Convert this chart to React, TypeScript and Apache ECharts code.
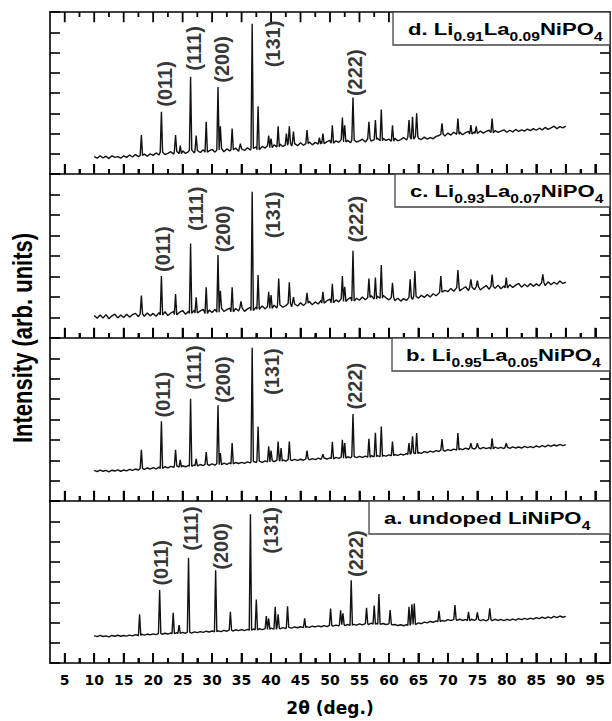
import React, { useEffect, useRef } from "react";
import * as echarts from "echarts";

// ---------- data ----------
const X_MIN = 2.5;
const X_MAX = 97.5;
const Y_MAX = 8;
const MAJOR_TICKS = [5, 10, 15, 20, 25, 30, 35, 40, 45, 50, 55, 60, 65, 70, 75, 80, 85, 90, 95];
const MINOR_TICKS = [7.5, 12.5, 17.5, 22.5, 27.5, 32.5, 37.5, 42.5, 47.5, 52.5, 57.5, 62.5, 67.5, 72.5, 77.5, 82.5, 87.5, 92.5];
const X_TITLE = "2θ (deg.)";
const Y_TITLE = "Intensity (arb. units)";
const HKL = ["(011)", "(111)", "(200)", "(131)", "(222)"];

// background, one value every 0.5 degree from 10 to 90
const BASE_START = 10;
const BASE_STEP = 0.5;
const BASE_D = [
  0.86, 0.78, 0.9, 0.8, 0.88, 0.76, 0.9, 0.82, 0.86, 0.78,
  0.9, 0.82, 0.94, 0.84, 0.96, 0.86, 0.92, 0.98, 0.88, 1.0,
  0.92, 1.04, 0.94, 1.08, 0.96, 1.02, 1.1, 0.98, 1.12, 1.0,
  1.14, 1.02, 1.1, 1.18, 1.04, 1.16, 1.06, 1.2, 1.08, 1.14,
  1.22, 1.08, 1.18, 1.26, 1.1, 1.24, 1.14, 1.2, 1.28, 1.12,
  1.24, 1.16, 1.3, 1.18, 1.26, 1.34, 1.2, 1.36, 1.28, 1.4,
  1.3, 1.44, 1.34, 1.48, 1.36, 1.42, 1.52, 1.38, 1.5, 1.4,
  1.54, 1.42, 1.5, 1.58, 1.44, 1.56, 1.48, 1.62, 1.5, 1.6,
  1.66, 1.52, 1.64, 1.56, 1.7, 1.58, 1.66, 1.54, 1.68, 1.58,
  1.64, 1.72, 1.58, 1.74, 1.62, 1.7, 1.78, 1.64, 1.76, 1.66,
  1.72, 1.62, 1.76, 1.64, 1.7, 1.8, 1.68, 1.82, 1.72, 1.86,
  1.76, 1.7, 1.82, 1.72, 1.8, 1.74, 1.86, 1.9, 1.96, 1.88,
  2.02, 1.92, 2.06, 1.96, 2.08, 1.94, 2.04, 2.1, 1.98, 2.08,
  2.0, 2.12, 2.02, 2.1, 2.16, 2.04, 2.14, 2.06, 2.12, 2.18,
  2.06, 2.16, 2.08, 2.2, 2.1, 2.18, 2.12, 2.22, 2.14, 2.24,
  2.16, 2.26, 2.18, 2.3, 2.2, 2.28, 2.36, 2.24, 2.34, 2.28,
  2.36,
];
const BASE_C = [
  1.1, 0.96, 1.12, 0.98, 1.14, 0.94, 1.08, 1.16, 0.98, 1.12,
  1.0, 1.16, 1.02, 1.14, 1.2, 1.04, 1.18, 1.06, 1.22, 1.08,
  1.2, 1.06, 1.24, 1.12, 1.28, 1.1, 1.22, 1.3, 1.14, 1.26,
  1.34, 1.16, 1.3, 1.2, 1.36, 1.22, 1.32, 1.4, 1.2, 1.36,
  1.24, 1.4, 1.26, 1.44, 1.3, 1.38, 1.46, 1.28, 1.44, 1.32,
  1.46, 1.3, 1.42, 1.5, 1.34, 1.52, 1.4, 1.56, 1.42, 1.54,
  1.44, 1.6, 1.46, 1.62, 1.5, 1.58, 1.68, 1.52, 1.66, 1.56,
  1.72, 1.58, 1.7, 1.78, 1.62, 1.76, 1.66, 1.84, 1.7, 1.82,
  1.9, 1.72, 1.86, 1.76, 1.92, 1.78, 1.88, 1.98, 1.8, 1.94,
  1.84, 2.0, 1.86, 1.98, 2.06, 1.9, 2.04, 1.94, 2.08, 1.96,
  1.86, 1.98, 1.82, 1.94, 1.8, 1.92, 1.84, 1.98, 1.88, 2.04,
  1.94, 2.08, 1.98, 2.12, 2.0, 2.16, 2.06, 2.2, 2.24, 2.32,
  2.26, 2.42, 2.28, 2.46, 2.3, 2.4, 2.5, 2.32, 2.48, 2.36,
  2.5, 2.34, 2.46, 2.56, 2.38, 2.52, 2.42, 2.58, 2.4, 2.54,
  2.44, 2.6, 2.46, 2.58, 2.66, 2.48, 2.62, 2.5, 2.66, 2.52,
  2.64, 2.54, 2.7, 2.56, 2.74, 2.6, 2.72, 2.62, 2.78, 2.66,
  2.72,
];
const BASE_B = [
  1.5, 1.44, 1.52, 1.46, 1.5, 1.43, 1.51, 1.47, 1.53, 1.46,
  1.52, 1.48, 1.55, 1.5, 1.57, 1.52, 1.6, 1.55, 1.62, 1.57,
  1.64, 1.58, 1.66, 1.6, 1.68, 1.63, 1.7, 1.65, 1.72, 1.66,
  1.73, 1.68, 1.75, 1.7, 1.78, 1.72, 1.79, 1.74, 1.8, 1.75,
  1.82, 1.76, 1.84, 1.78, 1.86, 1.8, 1.87, 1.82, 1.89, 1.84,
  1.9, 1.85, 1.92, 1.87, 1.94, 1.89, 1.96, 1.9, 1.97, 1.92,
  1.98, 1.93, 2.0, 1.95, 2.02, 1.96, 2.03, 1.98, 2.04, 1.99,
  2.05, 2.0, 2.07, 2.02, 2.08, 2.03, 2.1, 2.05, 2.11, 2.06,
  2.12, 2.07, 2.14, 2.09, 2.15, 2.1, 2.17, 2.12, 2.18, 2.13,
  2.19, 2.14, 2.2, 2.15, 2.22, 2.17, 2.23, 2.18, 2.24, 2.2,
  2.26, 2.22, 2.28, 2.24, 2.3, 2.26, 2.33, 2.29, 2.36, 2.32,
  2.38, 2.34, 2.42, 2.38, 2.45, 2.4, 2.47, 2.43, 2.5, 2.45,
  2.52, 2.47, 2.55, 2.5, 2.57, 2.52, 2.6, 2.54, 2.6, 2.55,
  2.62, 2.56, 2.63, 2.57, 2.62, 2.56, 2.64, 2.58, 2.63, 2.57,
  2.64, 2.58, 2.66, 2.6, 2.65, 2.6, 2.68, 2.62, 2.67, 2.62,
  2.7, 2.64, 2.72, 2.66, 2.74, 2.68, 2.76, 2.7, 2.78, 2.72,
  2.77,
];
const BASE_A = [
  1.35, 1.3, 1.36, 1.31, 1.34, 1.29, 1.36, 1.32, 1.37, 1.32,
  1.36, 1.33, 1.38, 1.34, 1.4, 1.36, 1.42, 1.38, 1.43, 1.39,
  1.44, 1.4, 1.46, 1.42, 1.47, 1.43, 1.49, 1.45, 1.5, 1.46,
  1.51, 1.47, 1.52, 1.48, 1.54, 1.5, 1.55, 1.51, 1.57, 1.53,
  1.58, 1.54, 1.59, 1.55, 1.61, 1.57, 1.62, 1.58, 1.64, 1.6,
  1.65, 1.6, 1.66, 1.62, 1.68, 1.63, 1.69, 1.65, 1.7, 1.66,
  1.72, 1.67, 1.73, 1.69, 1.75, 1.7, 1.76, 1.72, 1.78, 1.74,
  1.79, 1.75, 1.8, 1.76, 1.82, 1.78, 1.83, 1.79, 1.85, 1.8,
  1.86, 1.82, 1.87, 1.83, 1.89, 1.85, 1.9, 1.86, 1.91, 1.87,
  1.93, 1.88, 1.95, 1.9, 1.97, 1.92, 1.96, 1.91, 1.95, 1.9,
  1.93, 1.88, 1.9, 1.85, 1.89, 1.84, 1.9, 1.86, 1.95, 1.9,
  1.98, 1.94, 2.02, 1.98, 2.05, 2.01, 2.08, 2.04, 2.1, 2.07,
  2.14, 2.09, 2.15, 2.1, 2.16, 2.1, 2.15, 2.09, 2.16, 2.1,
  2.15, 2.09, 2.14, 2.08, 2.15, 2.09, 2.16, 2.1, 2.15, 2.09,
  2.16, 2.1, 2.17, 2.12, 2.19, 2.14, 2.2, 2.15, 2.22, 2.17,
  2.24, 2.19, 2.26, 2.2, 2.28, 2.22, 2.3, 2.24, 2.32, 2.26,
  2.3,
];

// peaks: [2θ, apex intensity]
const PEAKS_D = [[18.0, 1.92], [21.4, 3.07], [23.8, 1.92], [24.6, 1.4], [26.35, 4.8], [27.3, 1.9], [29.0, 2.58], [31.0, 4.3], [31.4, 2.36], [33.4, 2.25], [34.8, 1.5], [36.8, 7.42], [37.8, 3.35], [39.6, 1.9], [40.0, 1.75], [41.2, 2.36], [42.6, 2.0], [43.1, 2.36], [43.8, 2.1], [46.1, 2.17], [48.2, 1.8], [48.8, 2.0], [50.4, 2.41], [52.1, 2.79], [52.5, 2.4], [53.9, 3.78], [56.6, 2.58], [57.7, 2.66], [58.7, 3.19], [60.6, 2.41], [63.4, 2.66], [64.0, 2.82], [64.7, 3.0], [69.0, 2.5], [71.7, 2.74], [73.9, 2.41], [74.8, 2.35], [77.5, 2.74]];
const PEAKS_C = [[18.0, 2.07], [21.4, 3.02], [23.8, 2.15], [26.35, 4.61], [27.3, 1.99], [29.0, 2.48], [31.0, 4.05], [31.4, 2.3], [33.4, 2.48], [34.9, 1.79], [36.8, 7.13], [37.8, 3.07], [39.6, 2.25], [40.0, 2.1], [41.3, 2.9], [43.1, 2.72], [43.8, 2.0], [46.1, 2.2], [48.8, 2.25], [50.4, 2.64], [52.1, 3.02], [52.5, 2.5], [53.9, 4.25], [56.6, 2.9], [57.7, 2.95], [58.7, 3.56], [60.6, 2.69], [63.6, 2.86], [64.4, 3.27], [68.8, 3.02], [71.7, 3.31], [73.9, 2.86], [75.0, 2.8], [77.5, 3.1], [79.9, 2.95], [86.1, 3.1]];
const PEAKS_B = [[18.0, 2.51], [21.4, 3.91], [23.8, 2.51], [24.6, 2.02], [26.35, 5.02], [27.3, 2.07], [29.0, 2.4], [31.0, 4.7], [31.4, 2.35], [33.4, 2.84], [36.8, 7.52], [37.8, 3.66], [39.6, 2.68], [40.0, 2.47], [41.2, 2.92], [41.7, 2.6], [43.1, 2.92], [46.1, 2.47], [48.8, 2.3], [50.4, 2.9], [52.1, 3.0], [52.5, 2.85], [53.9, 4.27], [56.6, 3.05], [57.7, 3.35], [58.7, 3.66], [60.6, 2.92], [63.4, 2.84], [64.0, 3.17], [64.7, 3.33], [69.0, 3.04], [71.7, 3.33], [73.9, 2.84], [75.0, 2.84], [77.5, 3.07], [79.9, 2.84]];
const PEAKS_A = [[17.7, 2.41], [21.1, 3.6], [23.4, 2.48], [24.4, 1.87], [26.0, 5.2], [30.6, 4.58], [33.1, 2.53], [36.5, 7.34], [37.5, 3.14], [39.2, 2.32], [39.6, 2.2], [40.7, 2.77], [41.2, 2.4], [42.8, 2.8], [45.7, 2.2], [50.1, 2.69], [51.8, 2.6], [52.2, 2.45], [53.6, 4.09], [56.2, 2.72], [57.5, 2.84], [58.3, 3.4], [60.2, 2.61], [63.4, 2.77], [63.9, 2.9], [64.3, 2.94], [68.5, 2.58], [71.2, 2.86], [73.5, 2.53], [75.0, 2.5], [77.1, 2.7]];

// (hkl) label centres: [2θ, intensity]
const HKL_POS_D = [[21.95, 4.45], [27.0, 6.2], [31.6, 5.66], [40.4, 6.42], [54.2, 5.0]];
const HKL_POS_C = [[21.7, 4.33], [27.2, 6.3], [31.8, 5.32], [40.3, 6.0], [54.4, 5.8]];
const HKL_POS_B = [[21.7, 5.22], [26.9, 6.55], [31.8, 5.96], [40.2, 6.35], [54.2, 5.64]];
const HKL_POS_A = [[21.4, 4.95], [26.5, 6.64], [31.55, 5.76], [40.0, 6.55], [54.4, 5.4]];

// panel titles: alternating normal / subscript parts
const TITLE_D = ["d. Li", "0.91", "La", "0.09", "NiPO", "4"];
const TITLE_C = ["c. Li", "0.93", "La", "0.07", "NiPO", "4"];
const TITLE_B = ["b. Li", "0.95", "La", "0.05", "NiPO", "4"];
const TITLE_A = ["a. undoped LiNiPO", "4"];

// ---------- layout ----------
const GRID_TOPS = [12, 174, 338, 501];
const GRID_HEIGHTS = [162, 164, 163, 162];
const BOXES = [
  { x: 393, w: 217, tx: 408 },
  { x: 395, w: 215, tx: 410 },
  { x: 392, w: 218, tx: 406 },
  { x: 369, w: 241, tx: 384 },
];
const BOX_H = 33;
const PEAK_HALF = 0.2;
const MAJOR_LEN = 0.5; // tick lengths in axis units (~10 px / ~5 px)
const MINOR_LEN = 0.25;

function buildPattern(base: number[], peaks: number[][]) {
  const pts: number[][] = [];
  base.forEach((v, i) => {
    const x = BASE_START + i * BASE_STEP;
    if (!peaks.some((p) => Math.abs(p[0] - x) < PEAK_HALF + 0.05)) pts.push([x, v]);
  });
  peaks.forEach(([x, h]) => {
    const b = base[Math.round((x - BASE_START) / BASE_STEP)];
    pts.push([x - PEAK_HALF, b], [x, h], [x + PEAK_HALF, b]);
  });
  pts.sort((a, b) => a[0] - b[0]);
  return pts;
}

// tick segments from an edge value, separated by gaps
function tickSegments(edge: number, dir: number) {
  const out: any[] = [];
  const all = [...MAJOR_TICKS.map((v) => [v, MAJOR_LEN]), ...MINOR_TICKS.map((v) => [v, MINOR_LEN])].sort((a, b) => a[0] - b[0]);
  all.forEach(([v, len]) => {
    out.push([v, edge], [v, edge + dir * len], [v, "-"]);
  });
  return out;
}

function richTitle(parts: string[]) {
  return parts.map((p, i) => (i % 2 === 0 ? `{m|${p}}` : `{s|${p}}`)).join("");
}

export default function App() {
  const ref = useRef<HTMLDivElement>(null);

  useEffect(() => {
    if (!ref.current) return;
    const chart = echarts.init(ref.current, undefined, { renderer: "svg" });

    const bases = [BASE_D, BASE_C, BASE_B, BASE_A];
    const peaks = [PEAKS_D, PEAKS_C, PEAKS_B, PEAKS_A];
    const hklPos = [HKL_POS_D, HKL_POS_C, HKL_POS_B, HKL_POS_A];
    const titles = [TITLE_D, TITLE_C, TITLE_B, TITLE_A];

    const grid = GRID_TOPS.map((t, i) => ({ left: 50, right: 2, top: t, height: GRID_HEIGHTS[i] }));

    const xAxis: any[] = [];
    const yAxis: any[] = [];
    const series: any[] = [];

    GRID_TOPS.forEach((_, i) => {
      const isLast = i === GRID_TOPS.length - 1;
      xAxis.push({
        type: "value",
        gridIndex: i,
        min: X_MIN,
        max: X_MAX,
        position: "bottom",
        axisLine: { show: true, onZero: false, lineStyle: { color: "#000", width: 1.6 } },
        axisTick: { show: true, inside: true, length: 10, customValues: MAJOR_TICKS, lineStyle: { color: "#000", width: 1.8 } },
        axisLabel: isLast
          ? { show: true, customValues: MAJOR_TICKS, margin: 10, color: "#000", fontFamily: "DejaVu Sans", fontWeight: "bold", fontSize: 14 }
          : { show: false },
        splitLine: { show: false },
        name: isLast ? X_TITLE : undefined,
        nameLocation: "middle",
        nameGap: 36,
        nameTextStyle: { color: "#000", fontFamily: "DejaVu Sans", fontWeight: "bold", fontSize: 17 },
      });
      ["left", "right"].forEach((pos) => {
        yAxis.push({
          type: "value",
          gridIndex: i,
          min: 0,
          max: Y_MAX,
          interval: 1,
          position: pos,
          axisLine: { show: true, onZero: false, lineStyle: { color: "#000", width: 1.6 } },
          axisTick: { show: true, inside: true, length: 10, lineStyle: { color: "#000", width: 1.6 } },
          axisLabel: { show: false },
          splitLine: { show: false },
        });
      });
      series.push({
        type: "line",
        xAxisIndex: i,
        yAxisIndex: 2 * i,
        data: buildPattern(bases[i], peaks[i]),
        showSymbol: false,
        symbol: "none",
        lineStyle: { color: "#111", width: 1.4 },
      });
      series.push({
        type: "line",
        xAxisIndex: i,
        yAxisIndex: 2 * i,
        data: tickSegments(0, 1),
        showSymbol: false,
        symbol: "none",
        connectNulls: false,
        clip: false,
        lineStyle: { color: "#000", width: 1.8 },
      });
      if (i === 0) {
        series.push({
          type: "line",
          xAxisIndex: i,
          yAxisIndex: 2 * i,
          data: tickSegments(Y_MAX, -1),
          showSymbol: false,
          symbol: "none",
          connectNulls: false,
          clip: false,
          lineStyle: { color: "#000", width: 1.8 },
        });
      }
      series.push({
        type: "scatter",
        xAxisIndex: i,
        yAxisIndex: 2 * i,
        symbolSize: 0,
        data: hklPos[i].map((p, k) => ({ value: p, name: HKL[k] })),
        label: {
          show: true,
          position: "inside",
          rotate: 90,
          formatter: (p: any) => p.name,
          color: "#000",
          fontFamily: "Liberation Sans",
          fontWeight: "bold",
          fontSize: 20,
        },
      });
    });
    // minor bottom ticks
    GRID_TOPS.forEach((_, i) => {
      xAxis.push({
        type: "value",
        gridIndex: i,
        min: X_MIN,
        max: X_MAX,
        position: "bottom",
        axisLine: { show: false, onZero: false },
        axisTick: { show: true, inside: true, length: 5, customValues: MINOR_TICKS, lineStyle: { color: "#000", width: 1.8 } },
        axisLabel: { show: false },
        splitLine: { show: false },
      });
    });
    // top border of the first panel
    xAxis.push({
      type: "value",
      gridIndex: 0,
      min: X_MIN,
      max: X_MAX,
      position: "top",
      axisLine: { show: true, onZero: false, lineStyle: { color: "#000", width: 1.6 } },
      axisTick: { show: false },
      axisLabel: { show: false },
      splitLine: { show: false },
    });

    const graphic: any[] = [];
    BOXES.forEach((b, i) => {
      graphic.push({
        type: "rect",
        shape: { x: b.x, y: GRID_TOPS[i], width: b.w, height: BOX_H },
        style: { fill: "#fff", stroke: "#444", lineWidth: 1.3 },
        z: 10,
      });
      graphic.push({
        type: "text",
        x: b.tx,
        y: GRID_TOPS[i] + 3,
        scaleX: 1.3,
        z: 11,
        style: {
          text: richTitle(titles[i]),
          x: 0,
          y: 0,
          fill: "#000",
          verticalAlign: "top",
          align: "left",
          rich: {
            m: { fontFamily: "Liberation Sans", fontWeight: "bold", fontSize: 17, lineHeight: 28, verticalAlign: "middle" },
            s: { fontFamily: "Liberation Sans", fontWeight: "bold", fontSize: 12, lineHeight: 12, verticalAlign: "bottom" },
          },
        },
      });
    });
    graphic.push({
      type: "text",
      x: 22,
      y: 338,
      rotation: Math.PI / 2,
      scaleY: 1.25,
      style: {
        text: Y_TITLE,
        fill: "#000",
        fontFamily: "Liberation Sans",
        fontWeight: "bold",
        fontSize: 22,
        align: "center",
        verticalAlign: "middle",
      },
    });

    chart.setOption({
      animation: false,
      backgroundColor: "#fff",
      grid,
      xAxis,
      yAxis,
      series,
      graphic,
    });

    return () => chart.dispose();
  }, []);

  return (
    <div
      ref={ref}
      style={{ position: "absolute", left: 0, top: 0, width: 612, height: 721, background: "#fff" }}
    />
  );
}
